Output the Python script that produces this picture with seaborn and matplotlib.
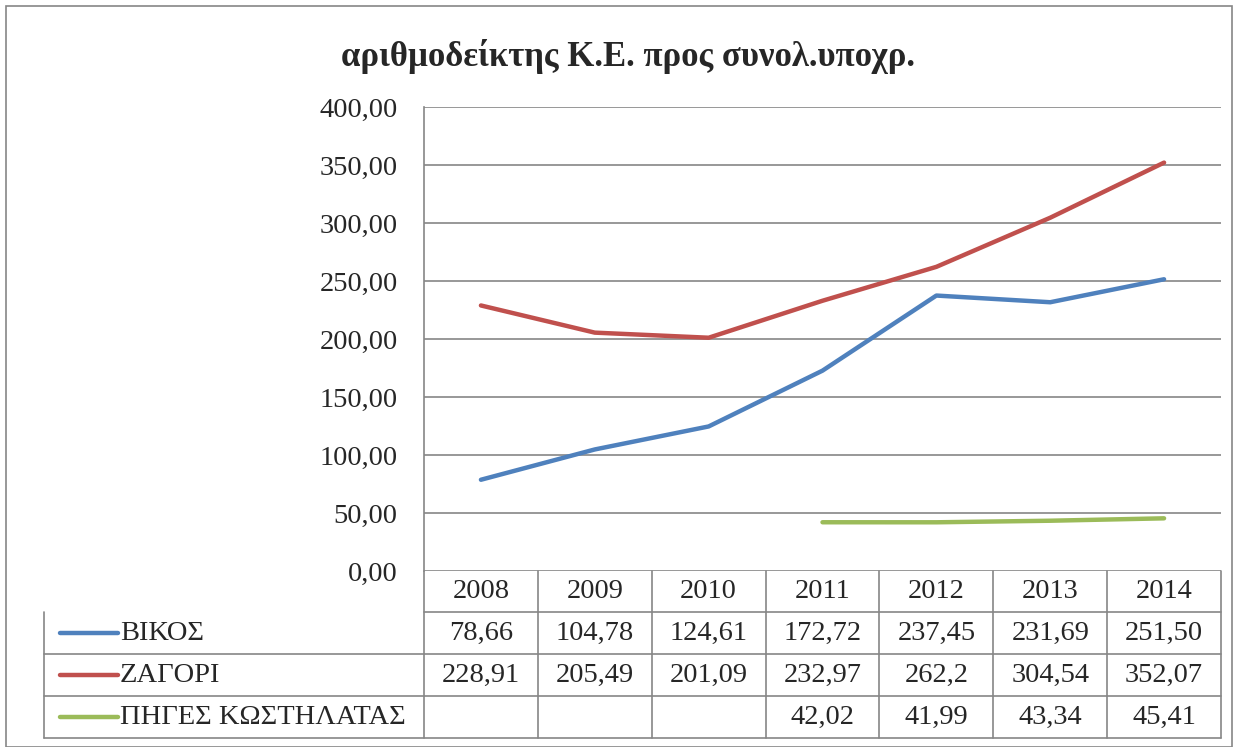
import numpy as np
import pandas as pd
import matplotlib.pyplot as plt
import matplotlib.transforms as mtransforms
from matplotlib.patches import Rectangle
import seaborn as sns

years = ['2008', '2009', '2010', '2011', '2012', '2013', '2014']
vikos = [78.66, 104.78, 124.61, 172.72, 237.45, 231.69, 251.50]
zagori = [228.91, 205.49, 201.09, 232.97, 262.2, 304.54, 352.07]
piges = [np.nan, np.nan, np.nan, 42.02, 41.99, 43.34, 45.41]
series_names = ['ΒΙΚΟΣ', 'ΖΑΓΟΡΙ', 'ΠΗΓΕΣ ΚΩΣΤΗΛΑΤΑΣ']
series_colors = ['#4F81BD', '#C0504D', '#9BBB59']
y_ticks = [0, 50, 100, 150, 200, 250, 300, 350, 400]
title = 'αριθμοδείκτης Κ.Ε. προς συνολ.υποχρ.'

table_vals = {
    'ΒΙΚΟΣ': ['78,66', '104,78', '124,61', '172,72', '237,45', '231,69', '251,50'],
    'ΖΑΓΟΡΙ': ['228,91', '205,49', '201,09', '232,97', '262,2', '304,54', '352,07'],
    'ΠΗΓΕΣ ΚΩΣΤΗΛΑΤΑΣ': ['', '', '', '42,02', '41,99', '43,34', '45,41'],
}

sns.set_theme(style='white')
plt.rcParams['font.family'] = ['Liberation Serif', 'DejaVu Serif']
FS = 20.5

df = pd.DataFrame({'pos': list(range(len(years))) * 3,
                   'value': vikos + zagori + piges,
                   'series': [s for s in series_names for _ in years]})

W, H = 1238, 747
fig = plt.figure(figsize=(W / 100, H / 100), dpi=100)
ax_l, ax_r, ax_t, ax_b = 424, 1221, 107, 571
ax = fig.add_axes([ax_l / W, 1 - ax_b / H, (ax_r - ax_l) / W, (ax_b - ax_t) / H])

# outer chart frame
fig.patches.append(Rectangle((6 / W, 0), (1232 - 6) / W, 1 - 6 / H, transform=fig.transFigure,
                             fill=False, edgecolor='#868686', lw=1.2))

sns.lineplot(data=df, x='pos', y='value', hue='series', palette=dict(zip(series_names, series_colors)),
             linewidth=3.2, legend=False, ax=ax, solid_capstyle='round')

ax.set_xlim(-0.5, len(years) - 0.5)
ax.set_ylim(0, 400)
ax.set_yticks(y_ticks)
ax.set_yticklabels([f'{v:.2f}'.replace('.', ',') for v in y_ticks], fontsize=FS)
ax.set_xticks([])
ax.set_xlabel('')
ax.set_ylabel('')
ax.tick_params(axis='y', length=0, pad=19)
for v in y_ticks:
    ax.axhline(v, color='#868686', lw=1.2, zorder=0)
for side in ['top', 'right', 'bottom']:
    ax.spines[side].set_visible(False)
ax.spines['left'].set_color('#868686')
ax.spines['left'].set_linewidth(1.2)

fig.text(628 / W, 1 - 57 / H, title, ha='center', va='center', fontsize=25, fontweight='bold')

# data table below the plot
trans = mtransforms.blended_transform_factory(ax.transData, ax.transAxes)
ah = ax_b - ax_t
row_lines = [0, 41, 83, 125, 167]
row_y = [-r / ah for r in row_lines]
left_x = -0.5 - (ax_l - 44) / ((ax_r - ax_l) / len(years))
grid_kw = dict(color='#868686', lw=1.2, transform=trans, clip_on=False)

# header row (years)
ax.plot([-0.5, len(years) - 0.5], [row_y[1]] * 2, **grid_kw)
for i in range(len(years) + 1):
    ax.plot([i - 0.5] * 2, [row_y[0], row_y[4]], **grid_kw)
for y in row_y[2:]:
    ax.plot([left_x, len(years) - 0.5], [y] * 2, **grid_kw)
ax.plot([left_x] * 2, [row_y[1], row_y[4]], **grid_kw)

for i, yr in enumerate(years):
    ax.text(i, (row_y[0] + row_y[1]) / 2, yr, ha='center', va='center', fontsize=FS,
            transform=trans, clip_on=False)

unit = (ax_r - ax_l) / len(years)
for r, (name, color) in enumerate(zip(series_names, series_colors)):
    yc = (row_y[r + 1] + row_y[r + 2]) / 2
    x0 = left_x + 16 / unit
    ax.plot([x0, x0 + 58 / unit], [yc, yc], color=color, lw=3.2, transform=trans,
            clip_on=False, solid_capstyle='round')
    ax.text(x0 + 60 / unit, yc, name, ha='left', va='center', fontsize=FS,
            transform=trans, clip_on=False)
    for i, s in enumerate(table_vals[name]):
        ax.text(i, yc, s, ha='center', va='center', fontsize=FS, transform=trans, clip_on=False)

fig.savefig('out.png', dpi=100)
